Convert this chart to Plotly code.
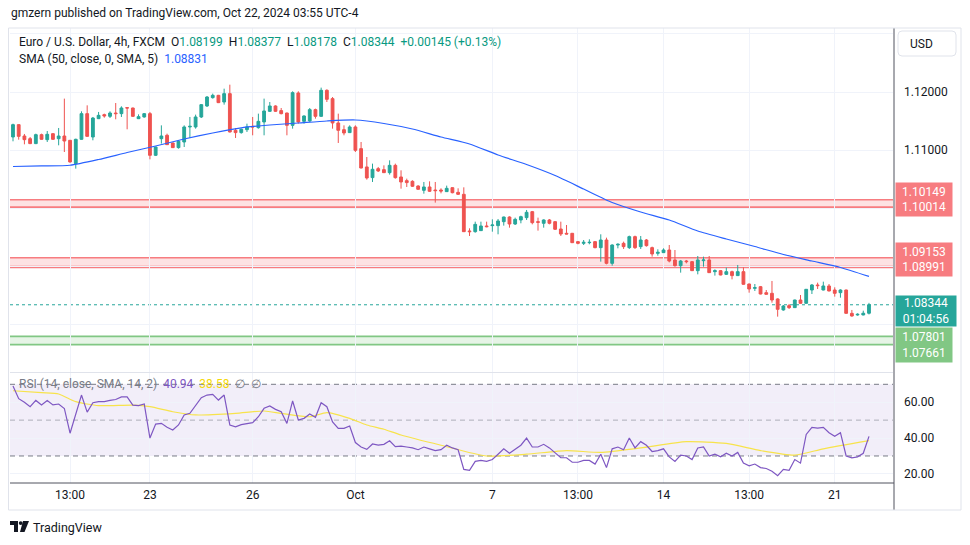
import plotly.graph_objects as go

# ---------------- data ----------------
opens = [1.11227,1.11439,1.11244,1.11198,1.11113,1.11267,1.11181,1.11284,1.11198,1.11244,
         1.11170,1.10769,1.11187,1.11628,1.11227,1.11542,1.11611,1.11582,1.11639,1.11628,
         1.11731,1.11725,1.11542,1.11571,1.11628,1.10912,1.11198,1.11256,1.11124,1.11044,
         1.11141,1.11399,1.11399,1.11571,1.11760,1.11903,1.11943,1.11828,1.11972,1.11342,
         1.11302,1.11353,1.11410,1.11387,1.11485,1.11668,1.11760,1.11680,1.11639,1.11427,
         1.11983,1.11496,1.11502,1.11697,1.11582,1.12029,1.11886,1.11468,1.11353,1.11302,
         1.11399,1.11027,1.10712,1.10529,1.10683,1.10666,1.10614,1.10740,1.10540,1.10477,
         1.10465,1.10385,1.10311,1.10368,1.10316,1.10316,1.10288,1.10356,1.10276,1.10242,
         1.09612,1.09600,1.09618,1.09698,1.09704,1.09704,1.09772,1.09852,1.09732,1.09801,
         1.09841,1.09944,1.09772,1.09744,1.09801,1.09772,1.09646,1.09572,1.09572,1.09429,
         1.09400,1.09411,1.09429,1.09326,1.09457,1.09056,1.09371,1.09400,1.09326,1.09515,
         1.09343,1.09457,1.09326,1.09228,1.09240,1.09285,1.09114,1.09016,1.09096,1.09085,
         1.08930,1.09102,1.09114,1.08913,1.08930,1.08867,1.08913,1.08845,1.08913,1.08701,
         1.08627,1.08655,1.08552,1.08541,1.08444,1.08255,1.08329,1.08295,1.08426,1.08369,
         1.08598,1.08684,1.08598,1.08667,1.08598,1.08552,1.08598,1.08197,1.08169,1.08169,
         1.08199]
highs = [1.11456,1.11445,1.11279,1.11227,1.11284,1.11284,1.11330,1.11290,1.11382,1.11886,
         1.11175,1.11198,1.11668,1.11771,1.11571,1.11657,1.11628,1.11668,1.11811,1.11754,
         1.11742,1.11731,1.11616,1.11639,1.11657,1.11060,1.11427,1.11284,1.11130,1.11170,
         1.11427,1.11571,1.11611,1.11790,1.11931,1.11972,1.11950,1.12057,1.12126,1.11382,
         1.11370,1.11456,1.11571,1.11628,1.11886,1.11828,1.11771,1.11725,1.11645,1.12012,
         1.12012,1.11599,1.11725,1.11714,1.12075,1.12046,1.11914,1.11628,1.11427,1.11427,
         1.11427,1.11141,1.10883,1.10769,1.10712,1.10740,1.10826,1.10769,1.10654,1.10511,
         1.10483,1.10397,1.10454,1.10465,1.10454,1.10345,1.10391,1.10362,1.10345,1.10362,
         1.09658,1.09772,1.09772,1.09772,1.09812,1.09818,1.09858,1.09864,1.09841,1.09875,
         1.09973,1.09956,1.09841,1.09812,1.09818,1.09778,1.09772,1.09715,1.09578,1.09440,
         1.09457,1.09469,1.09440,1.09555,1.09497,1.09383,1.09400,1.09429,1.09532,1.09532,
         1.09526,1.09474,1.09343,1.09297,1.09314,1.09371,1.09285,1.09114,1.09114,1.09096,
         1.09182,1.09171,1.09182,1.08953,1.08942,1.08982,1.08930,1.09028,1.08988,1.08707,
         1.08701,1.08667,1.08598,1.08753,1.08455,1.08340,1.08358,1.08432,1.08512,1.08615,
         1.08701,1.08724,1.08741,1.08701,1.08644,1.08610,1.08604,1.08255,1.08197,1.08243,
         1.08377]
lows = [1.11153,1.11181,1.11101,1.11105,1.11105,1.11180,1.11141,1.11180,1.11084,1.10969,
        1.10786,1.10683,1.11180,1.11230,1.11170,1.11535,1.11559,1.11553,1.11531,1.11571,
        1.11359,1.11571,1.11535,1.11559,1.10843,1.10900,1.11113,1.11090,1.11040,1.11027,
        1.11055,1.11210,1.11370,1.11553,1.11742,1.11886,1.11810,1.11783,1.11305,1.11210,
        1.11284,1.11313,1.11256,1.11370,1.11256,1.11657,1.11657,1.11616,1.11256,1.11370,
        1.11456,1.11456,1.11485,1.11542,1.11571,1.11828,1.11370,1.11124,1.11256,1.11295,
        1.10969,1.10688,1.10494,1.10454,1.10626,1.10608,1.10580,1.10511,1.10339,1.10368,
        1.10368,1.10322,1.10253,1.10282,1.10099,1.10259,1.10282,1.10259,1.10230,1.09595,
        1.09526,1.09583,1.09612,1.09675,1.09600,1.09555,1.09704,1.09669,1.09715,1.09744,
        1.09801,1.09726,1.09618,1.09669,1.09726,1.09629,1.09526,1.09555,1.09405,1.09383,
        1.09371,1.09383,1.09314,1.09085,1.09039,1.09016,1.09314,1.09303,1.09303,1.09303,
        1.09303,1.09343,1.09171,1.09188,1.09234,1.09073,1.08999,1.08896,1.09056,1.08925,
        1.08867,1.08999,1.08890,1.08845,1.08850,1.08856,1.08781,1.08839,1.08690,1.08552,
        1.08581,1.08523,1.08518,1.08381,1.08140,1.08243,1.08272,1.08289,1.08363,1.08363,
        1.08529,1.08615,1.08592,1.08575,1.08484,1.08466,1.08192,1.08140,1.08157,1.08163,
        1.08178]
closes = [1.11439,1.11238,1.11181,1.11113,1.11267,1.11187,1.11273,1.11187,1.11244,1.11158,
          1.10798,1.11187,1.11628,1.11238,1.11553,1.11599,1.11588,1.11639,1.11628,1.11725,
          1.11725,1.11582,1.11576,1.11628,1.10912,1.11055,1.11244,1.11095,1.11044,1.11153,
          1.11399,1.11410,1.11571,1.11783,1.11914,1.11943,1.11817,1.11972,1.11313,1.11302,
          1.11359,1.11399,1.11399,1.11496,1.11674,1.11760,1.11668,1.11628,1.11427,1.11989,
          1.11485,1.11588,1.11697,1.11582,1.12029,1.11874,1.11468,1.11342,1.11296,1.11399,
          1.10998,1.10694,1.10523,1.10672,1.10643,1.10614,1.10740,1.10528,1.10454,1.10443,
          1.10380,1.10328,1.10368,1.10294,1.10305,1.10299,1.10345,1.10270,1.10242,1.09600,
          1.09600,1.09726,1.09698,1.09686,1.09715,1.09784,1.09852,1.09732,1.09812,1.09858,
          1.09933,1.09755,1.09761,1.09801,1.09744,1.09641,1.09560,1.09560,1.09411,1.09400,
          1.09417,1.09417,1.09326,1.09457,1.09056,1.09371,1.09383,1.09343,1.09515,1.09326,
          1.09457,1.09360,1.09217,1.09245,1.09285,1.09096,1.09016,1.09096,1.09085,1.08930,
          1.09114,1.09114,1.08896,1.08930,1.08856,1.08913,1.08845,1.08913,1.08696,1.08615,
          1.08638,1.08529,1.08524,1.08426,1.08266,1.08323,1.08295,1.08426,1.08369,1.08610,
          1.08684,1.08673,1.08667,1.08581,1.08541,1.08598,1.08197,1.08151,1.08180,1.08199,
          1.08344]

# SMA(50) at every 5th bar
sma_idx = [0,5,10,15,20,25,30,35,40,45,50,55,60,65,70,75,80,85,90,95,100,105,110,115,120,125,130,135,140,145,150]
sma_val = [1.10720,1.10729,1.10741,1.10840,1.10960,1.11072,1.11192,1.11296,1.11385,1.11433,1.11467,
           1.11502,1.11519,1.11459,1.11364,1.11227,1.11107,1.10918,1.10754,1.10565,1.10333,1.10101,
           1.09938,1.09801,1.09612,1.09474,1.09345,1.09208,1.09096,1.08985,1.08831]

rsi = [69,62,60,57.5,61,58.5,61,58.5,59,56.5,
       42.7,53,64,54.5,59.7,60.3,60.3,61,61.5,63,
       63,58.4,58.1,59,40,47.8,48.2,46,44.5,47.3,
       52.9,53.8,58,62.5,64,64.4,61.2,64,47.3,46.3,
       47.5,48.2,48.6,51.9,56.6,57.9,56,54.7,48.2,60.7,
       50.1,51,53.4,51.6,59.7,57.5,49,45.4,45.4,46.7,
       37.5,35,33.7,36.7,36.1,36.5,38.5,35.2,35.5,35,
       34.5,33.5,35,34,33,33.5,36,34.5,33.5,22.5,
       22,27,27.5,27,28,31,34,31.5,34,36,
       40,35,35,36.5,34.5,31.5,29,29,26.5,26.5,
       27.5,27.5,25.5,31,23.5,34,35,33.5,40,34.5,
       38,36,32.5,33,34,29.5,27,30.5,30,28,
       34.5,35,30,31,29.5,31.5,30,32,26,24.5,
       25.5,23.5,23,21.5,19,22.5,22,28,26,42,
       46,45.5,46,43,41,43,30,29,29.5,31.5,
       40.94]
rsi_sma_idx = [0,5,8,11,15,21,24,28,32,39,44,47,52,55,59,62,65,68,75,83,90,97,103,110,118,125,131,137,142,150]
rsi_sma_val = [66.4,65.3,64.6,60.3,58.1,58.4,57.5,54.7,52.9,53.8,55.1,53.8,51.9,54.2,51.0,47.3,44.9,41.7,
               36.0,30.0,31.0,33.0,32.0,34.5,38.0,37.0,33.0,30.5,34.0,38.58]

tick_idx = [10,24,42,60,84,99,114,129,144]
tick_txt = ["13:00","23","26","Oct","7","13:00","14","13:00","21"]

zones = [  # (upper, lower, kind)
    (1.10149, 1.10014, "res"),
    (1.09153, 1.08991, "res"),
    (1.07801, 1.07661, "sup"),
]

# ---------------- geometry helpers (layout only) ----------------
W, H = 970, 545
ML, MR, MT, MB = 10, 77, 28, 62
PW, PH = W - ML - MR, H - MT - MB


def px(x):
    return (x - ML) / PW


def py(y):
    return (H - MB - y) / PH


FONT = "Roboto, Arial, sans-serif"
TXT = "#131722"
UP, DN = "#26a69a", "#ef5350"

n = len(closes)
xs = list(range(n))

fig = go.Figure()
fig.add_trace(go.Candlestick(
    x=xs, open=opens, high=highs, low=lows, close=closes,
    increasing=dict(line=dict(color=UP, width=1), fillcolor=UP),
    decreasing=dict(line=dict(color=DN, width=1), fillcolor=DN),
    whiskerwidth=0, hoverinfo="skip", xaxis="x", yaxis="y"))
fig.add_trace(go.Scatter(x=sma_idx, y=sma_val, mode="lines", line=dict(color="#2962ff", width=1.2, shape="spline", smoothing=0.6),
                         hoverinfo="skip", xaxis="x", yaxis="y"))
fig.add_trace(go.Scatter(x=rsi_sma_idx, y=rsi_sma_val, mode="lines", line=dict(color="#f7e34b", width=1.2, shape="spline", smoothing=0.6),
                         hoverinfo="skip", xaxis="x", yaxis="y2"))
fig.add_trace(go.Scatter(x=xs, y=rsi, mode="lines", line=dict(color="#7e57c2", width=1.2),
                         hoverinfo="skip", xaxis="x", yaxis="y2"))

shapes = []
# zones
for hi, lo, kind in zones:
    if kind == "res":
        fill, lc = "rgba(247,124,128,0.22)", "#f77c80"
        shapes.append(dict(type="rect", xref="paper", yref="y", x0=0, x1=1, y0=lo, y1=hi,
                           fillcolor=fill, line=dict(width=0), layer="below"))
        shapes.append(dict(type="line", xref="paper", yref="y", x0=0, x1=1, y0=hi, y1=hi,
                           line=dict(color=lc, width=1.5), layer="below"))
        shapes.append(dict(type="line", xref="paper", yref="y", x0=0, x1=1, y0=lo, y1=lo,
                           line=dict(color=lc, width=2.5), layer="below"))
    else:
        fill, lc = "rgba(129,199,132,0.2)", "#81c784"
        shapes.append(dict(type="rect", xref="paper", yref="y", x0=0, x1=1, y0=lo, y1=hi,
                           fillcolor=fill, line=dict(width=0), layer="below"))
        for v in (hi, lo):
            shapes.append(dict(type="line", xref="paper", yref="y", x0=0, x1=1, y0=v, y1=v,
                               line=dict(color=lc, width=1.8), layer="below"))
# last price dotted line
shapes.append(dict(type="line", xref="paper", yref="y", x0=0, x1=1, y0=closes[-1], y1=closes[-1],
                   line=dict(color=UP, width=1, dash="dot"), layer="below"))
# RSI band and levels
shapes.append(dict(type="rect", xref="paper", yref="y2", x0=0, x1=1, y0=30, y1=70,
                   fillcolor="rgba(126,87,194,0.1)", line=dict(width=0), layer="below"))
for lv, col in ((70, "#787b86"), (50, "rgba(120,123,134,0.55)"), (30, "#787b86")):
    shapes.append(dict(type="line", xref="paper", yref="y2", x0=0, x1=1, y0=lv, y1=lv,
                       line=dict(color=col, width=1, dash="5px,4px"), layer="below"))
# pane separator, axis lines, widget border
shapes.append(dict(type="line", xref="paper", yref="paper", x0=0, x1=1, y0=py(372.5), y1=py(372.5),
                   line=dict(color="#e0e3eb", width=1)))
shapes.append(dict(type="line", xref="paper", yref="paper", x0=px(894), x1=px(894), y0=py(28), y1=py(510),
                   line=dict(color="#50535e", width=1)))
shapes.append(dict(type="line", xref="paper", yref="paper", x0=0, x1=px(894), y0=py(483), y1=py(483),
                   line=dict(color="#50535e", width=1)))
shapes.append(dict(type="rect", xref="paper", yref="paper", x0=px(8.5), x1=px(961), y0=py(510), y1=py(28),
                   line=dict(color="#e0e3eb", width=1), fillcolor="rgba(0,0,0,0)"))
# USD button (rounded)
bx0, bx1, by0, by1, r = 898, 956, 31, 56, 4
usd = (f"M{px(bx0+r)},{py(by0)} L{px(bx1-r)},{py(by0)} Q{px(bx1)},{py(by0)} {px(bx1)},{py(by0+r)} "
       f"L{px(bx1)},{py(by1-r)} Q{px(bx1)},{py(by1)} {px(bx1-r)},{py(by1)} "
       f"L{px(bx0+r)},{py(by1)} Q{px(bx0)},{py(by1)} {px(bx0)},{py(by1-r)} "
       f"L{px(bx0)},{py(by0+r)} Q{px(bx0)},{py(by0)} {px(bx0+r)},{py(by0)} Z")
shapes.append(dict(type="path", xref="paper", yref="paper", path=usd, fillcolor="white",
                   line=dict(color="#e0e3eb", width=1)))
# TradingView logo
logo1 = f"M{px(10)},{py(521)} L{px(18)},{py(521)} L{px(18)},{py(532)} L{px(14)},{py(532)} L{px(14)},{py(525)} L{px(10)},{py(525)} Z"
logo2 = f"M{px(23)},{py(521)} L{px(29)},{py(521)} L{px(24.5)},{py(532)} L{px(20)},{py(532)} Z"
shapes.append(dict(type="path", xref="paper", yref="paper", path=logo1, fillcolor=TXT, line=dict(width=0)))
shapes.append(dict(type="path", xref="paper", yref="paper", path=logo2, fillcolor=TXT, line=dict(width=0)))
shapes.append(dict(type="circle", xref="paper", yref="paper", x0=px(18.8), x1=px(22.6), y0=py(525), y1=py(521.2),
                   fillcolor=TXT, line=dict(width=0)))

ann = []
def note(x, y, text, size=12, color=TXT, xanchor="left", **kw):
    ann.append(dict(xref="paper", yref="paper", x=px(x), y=py(y), text=text, showarrow=False,
                    xanchor=xanchor, yanchor="middle", font=dict(family=FONT, size=size, color=color), **kw))

note(9, 13, "gmzern published on TradingView.com, Oct 22, 2024 03:55 UTC-4", size=12)
G = "#089981"
chg = closes[-1] - closes[-2]
pct = chg / closes[-2] * 100
sp = "\u00a0\u00a0"
leg1 = (f"Euro / U.S. Dollar, 4h, FXCM{sp}O<span style='color:{G}'>{opens[-1]:.5f}</span>{sp}"
        f"H<span style='color:{G}'>{highs[-1]:.5f}</span>{sp}L<span style='color:{G}'>{lows[-1]:.5f}</span>{sp}"
        f"C<span style='color:{G}'>{closes[-1]:.5f}</span>{sp}<span style='color:{G}'>{chg:+.5f} ({pct:+.2f}%)</span>")
note(17, 42, leg1, size=12)
note(17, 59, f"SMA (50, close, 0, SMA, 5){sp}<span style='color:#2962ff'>{sma_val[-1]:.5f}</span>", size=12)
note(17, 384, f"RSI (14, close, SMA, 14, 2){sp}<span style='color:#7e57c2'>{rsi[-1]:.2f}</span>{sp}"
              f"<span style='color:#f5d90a'>{rsi_sma_val[-1]:.2f}</span>{sp}\u2205{sp}\u2205", size=12, color="#787b86")
note(908, 44, "USD", size=12)
note(31, 527, "TradingView", size=12.5)

# price labels on the axis
def plabel(price, text, bg, shift, height, width=52):
    ann.append(dict(xref="paper", yref="y", x=px(895), y=price, text=text, showarrow=False,
                    xanchor="left", yanchor="middle", yshift=shift, align="center",
                    bgcolor=bg, borderpad=2, width=width, height=height,
                    font=dict(family=FONT, size=12, color="white")))

plabel(zones[0][1], f"{zones[0][0]:.5f}<br>{zones[0][1]:.5f}", "#f77c80", 8, 29)
plabel(zones[1][1], f"{zones[1][0]:.5f}<br>{zones[1][1]:.5f}", "#f77c80", 8, 29)
plabel(closes[-1], f"{closes[-1]:.5f}<br>01:04:56", "#26a69a", -6, 26, width=56)
plabel(zones[2][1], f"{zones[2][0]:.5f}<br>{zones[2][1]:.5f}", "#81c784", 0, 30)

main_top, main_bot = 1.12 + 64 / 5820, 1.12 - 280 / 5820
rsi_top, rsi_bot = 70 + (384.3 - 373) / 1.792, 70 - (483 - 384.3) / 1.792

fig.update_layout(
    width=W, height=H, margin=dict(l=ML, r=MR, t=MT, b=MB, pad=0),
    paper_bgcolor="white", plot_bgcolor="white", showlegend=False, boxgap=0.3,
    font=dict(family=FONT, size=12, color=TXT),
    xaxis=dict(range=[-0.525, (894 - 13) / 5.713], anchor="y2", tickvals=tick_idx, ticktext=tick_txt,
               showgrid=True, gridcolor="#f0f3fa", gridwidth=1, zeroline=False, showline=False,
               ticks="", ticklabelstandoff=3, tickfont=dict(size=12, color=TXT), rangeslider=dict(visible=False),
               fixedrange=True),
    yaxis=dict(domain=[py(372), 1], range=[main_bot, main_top], side="right",
               tickvals=[1.08, 1.09, 1.10, 1.11, 1.12, 1.13], ticktext=["", "", "", "1.11000", "1.12000", ""],
               showgrid=True, gridcolor="#f0f3fa", zeroline=False, showline=False, ticks="",
               ticklabelstandoff=10, tickfont=dict(size=12, color=TXT)),
    yaxis2=dict(domain=[0, py(373)], range=[rsi_bot, rsi_top], side="right",
                tickvals=[20, 40, 60], ticktext=["20.00", "40.00", "60.00"],
                showgrid=True, gridcolor="#f0f3fa", zeroline=False, showline=False, ticks="",
                ticklabelstandoff=10, tickfont=dict(size=12, color=TXT)),
    shapes=shapes, annotations=ann,
)

fig.write_html("out.html", config={"displayModeBar": False},
               post_script="document.body.style.margin='0px';document.body.style.overflow='hidden';")
